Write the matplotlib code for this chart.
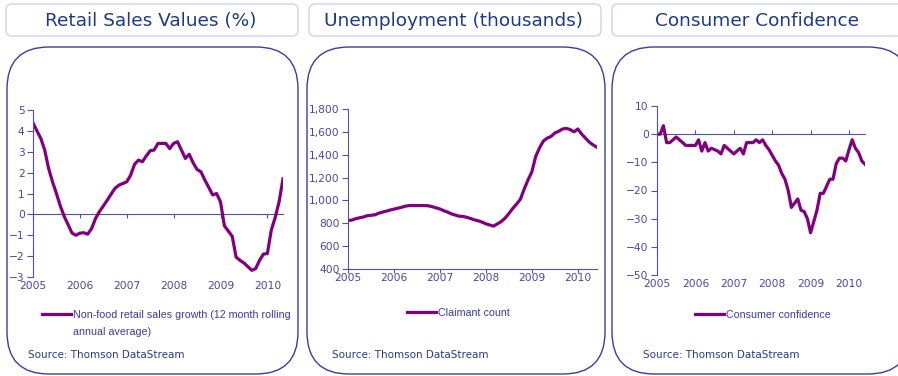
import numpy as np
import matplotlib.pyplot as plt
from matplotlib.patches import FancyBboxPatch

# monthly values, Jan 2005 onwards
retail = [4.38, 4.0, 3.64, 3.08, 2.2, 1.56, 1.0, 0.4, -0.1, -0.5, -0.9, -1.0,
          -0.9, -0.88, -0.95, -0.68, -0.2, 0.13, 0.4, 0.68, 0.97, 1.25, 1.4, 1.48,
          1.56, 1.88, 2.4, 2.6, 2.52, 2.8, 3.05, 3.08, 3.4, 3.4, 3.4, 3.15,
          3.4, 3.48, 3.08, 2.68, 2.88, 2.47, 2.15, 2.04, 1.64, 1.29, 0.93, 1.0,
          0.6, -0.55, -0.8, -1.05, -2.05, -2.2, -2.33, -2.5, -2.68, -2.6, -2.2, -1.9,
          -1.88, -0.75, -0.15, 0.6, 1.7]
claimant = [825, 828, 840, 848, 855, 866, 870, 874, 888, 898, 906, 916,
            924, 932, 940, 950, 955, 955, 955, 955, 955, 953, 945, 935,
            925, 910, 898, 882, 872, 862, 860, 852, 842, 830, 822, 810,
            795, 785, 775, 795, 815, 845, 885, 930, 968, 1010, 1100, 1180,
            1250, 1385, 1460, 1520, 1545, 1560, 1590, 1605, 1625, 1630, 1620, 1600,
            1625, 1580, 1545, 1510, 1485, 1465]
confidence = [0, 0, 3, -3, -3, -2, -1, -2, -3, -4, -4, -4,
              -4, -2, -6, -3, -6, -5, -5.5, -6, -7, -4, -5, -6,
              -7, -6, -5, -7, -3, -3, -3, -2, -3, -2, -4, -5.5,
              -7.5, -9.5, -11, -14, -16, -20, -26, -24.5, -23, -27, -27.5, -30,
              -35, -31, -27, -21, -21, -18.5, -16, -16, -10.5, -8.5, -8.5, -9.5,
              -5.5, -2, -5, -6.5, -9.5, -10.7]

years = [2005, 2006, 2007, 2008, 2009, 2010]
titles = ['Retail Sales Values (%)', 'Unemployment (thousands)', 'Consumer Confidence']
legend_labels = ['Non-food retail sales growth (12 month rolling', 'Claimant count',
                 'Consumer confidence']

W, H = 898, 376
PURPLE = '#800080'
AXC = '#5050a8'
TXT = '#4646a6'
TITLE_C = '#1c3a86'
BORDER = '#3c3ca0'

fig = plt.figure(figsize=(W / 100, H / 100), dpi=100)
bg = fig.add_axes([0, 0, 1, 1])
bg.set_xlim(0, W)
bg.set_ylim(H, 0)
bg.axis('off')


def rect(x0, y0, x1, y1):
    return [x0 / W, 1 - y1 / H, (x1 - x0) / W, (y1 - y0) / H]


# panel frames and title boxes
panels = [(7, 298), (307, 605), (612, 910)]
tboxes = [(6, 298), (309, 601), (612, 910)]
tcenters = [151, 454, 757]
for (px0, px1), (tx0, tx1), tc, t in zip(panels, tboxes, tcenters, titles):
    bg.add_patch(FancyBboxPatch((px0, 47), px1 - px0, 327,
                                boxstyle='round,pad=0,rounding_size=42',
                                fc='white', ec=BORDER, lw=1.0))
    bg.add_patch(FancyBboxPatch((tx0, 4), tx1 - tx0, 32,
                                boxstyle='round,pad=0,rounding_size=6',
                                fc='white', ec='#d0d0f0', lw=1.0))
    bg.text(tc, 21, t, ha='center', va='center', fontsize=13.3, color=TITLE_C)


def setup(ax, x, y, ylim, yticks, zero):
    ax.set_facecolor('none')
    ax.plot(x, y, color=PURPLE, lw=2.3, solid_joinstyle='round')
    ax.set_xlim(x[0], x[-1])
    ax.set_ylim(*ylim)
    ax.set_yticks(yticks)
    ax.set_xticks(years)
    for s in ['top', 'right', 'bottom']:
        ax.spines[s].set_visible(False)
    ax.spines['left'].set_color(AXC)
    ax.tick_params(axis='y', colors=AXC, labelcolor=TXT, labelsize=7.7,
                   length=4, width=0.8, pad=2)
    ax.tick_params(axis='x', length=0, labelcolor=TXT, labelsize=7.7, pad=3)
    frac = (zero - ylim[0]) / (ylim[1] - ylim[0])
    sec = ax.secondary_xaxis(frac)
    sec.set_xticks(years)
    sec.tick_params(axis='x', labelbottom=False, labeltop=False, colors=AXC,
                    length=3, width=0.8, direction='out')
    for s in sec.spines.values():
        s.set_color(AXC)
        s.set_linewidth(0.8)
    return ax


x1 = 2005 + np.arange(len(retail)) / 12
x2 = 2005 + np.arange(len(claimant)) / 12
x3 = 2005 + np.arange(len(confidence)) / 12

ax1 = fig.add_axes(rect(33, 110, 283, 277))
setup(ax1, x1, retail, (-3, 5), range(-3, 6), 0)

ax2 = fig.add_axes(rect(348, 109, 597, 269))
setup(ax2, x2, claimant, (400, 1800), range(400, 1801, 200), 400)
ax2.yaxis.set_major_formatter(plt.FuncFormatter(lambda v, p: f'{int(v):,}'))

ax3 = fig.add_axes(rect(657, 106, 865, 275))
setup(ax3, x3, confidence, (-50, 10), range(-50, 11, 10), 0)

# legends
leg_pos = [(42, 315), (407, 313), (695, 315)]
for ax, lab, (lx, ly) in zip([ax1, ax2, ax3], legend_labels, leg_pos):
    leg = fig.legend([ax.lines[0]], [lab], loc='center left',
                     bbox_to_anchor=(lx / W, 1 - ly / H), frameon=False,
                     handlelength=2.75, handletextpad=0.15, borderpad=0,
                     borderaxespad=0,
                     prop={'family': 'Liberation Sans', 'size': 7.7})
    for t in leg.get_texts():
        t.set_color('#3a3a9a')
bg.text(73, 332, 'annual average)', ha='left', va='center', color='#3a3a9a',
        fontsize=7.7, family='Liberation Sans')

for sx in [28, 332, 643]:
    bg.text(sx, 355, 'Source: Thomson DataStream', ha='left', va='center',
            fontsize=7.5, color='#2a3a8a')

fig.savefig('out.png', dpi=100)
